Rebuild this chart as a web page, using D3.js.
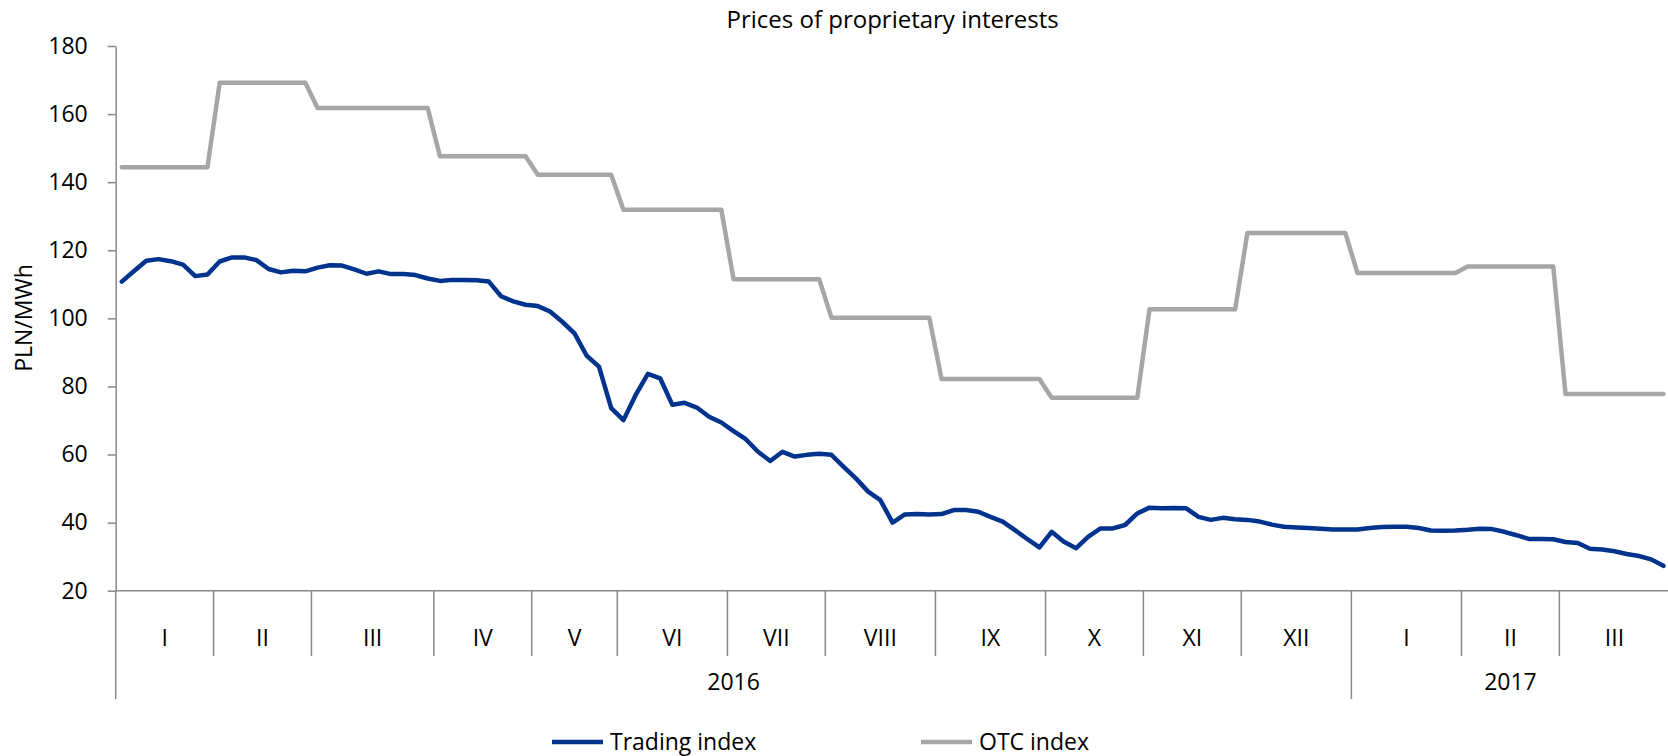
<!DOCTYPE html>
<meta charset="utf-8">
<style>
  body { margin: 0; background: #fff; }
  text { font-family: "Open Sans", sans-serif; fill: #000; }
</style>
<body>
<div id="chart"></div>
<script src="https://d3js.org/d3.v7.min.js"></script>
<script>
// category axis: months and number of quotes in each month
var monthLabels = ["I", "II", "III", "IV", "V", "VI", "VII", "VIII", "IX", "X", "XI", "XII", "I", "II", "III"];
var monthCounts = [8, 8, 10, 8, 7, 9, 8, 9, 9, 8, 8, 9, 9, 8, 9];
var yearLabels = ["2016", "2017"];
var yearMonths = [12, 3];
var yTicks = [20, 40, 60, 80, 100, 120, 140, 160, 180];

// PLN/MWh
var tradingIndex = [
  110.8, 113.9, 116.9, 117.4, 116.8, 115.8, 112.4, 112.9,
  116.7, 117.9, 117.9, 117.1, 114.5, 113.5, 114.0, 113.8,
  114.9, 115.6, 115.5, 114.4, 113.1, 113.8, 113.0, 113.0, 112.7, 111.7,
  111.0, 111.3, 111.3, 111.2, 110.8, 106.5, 105.0, 104.0,
  103.6, 102.0, 99.0, 95.6, 89.0, 85.8, 73.6,
  70.1, 77.5, 83.7, 82.4, 74.6, 75.2, 73.8, 71.1, 69.4,
  66.9, 64.5, 60.8, 58.1, 60.8, 59.4, 59.9, 60.2,
  59.9, 56.4, 53.0, 49.1, 46.6, 40.0, 42.4, 42.5, 42.4,
  42.5, 43.7, 43.7, 43.2, 41.7, 40.3, 37.8, 35.2, 32.7,
  37.3, 34.4, 32.5, 35.9, 38.3, 38.3, 39.3, 42.7,
  44.4, 44.2, 44.3, 44.2, 41.7, 40.8, 41.4, 41.0,
  40.8, 40.3, 39.4, 38.8, 38.6, 38.4, 38.2, 38.0, 38.0,
  38.0, 38.4, 38.7, 38.8, 38.8, 38.4, 37.7, 37.6, 37.7,
  37.9, 38.2, 38.1, 37.3, 36.3, 35.2, 35.2, 35.1,
  34.3, 34.0, 32.3, 32.1, 31.6, 30.8, 30.2, 29.2, 27.3
];
var otcIndex = [
  144.4, 144.4, 144.4, 144.4, 144.4, 144.4, 144.4, 144.4,
  169.2, 169.2, 169.2, 169.2, 169.2, 169.2, 169.2, 169.2,
  161.8, 161.8, 161.8, 161.8, 161.8, 161.8, 161.8, 161.8, 161.8, 161.8,
  147.6, 147.6, 147.6, 147.6, 147.6, 147.6, 147.6, 147.6,
  142.2, 142.2, 142.2, 142.2, 142.2, 142.2, 142.2,
  131.9, 131.9, 131.9, 131.9, 131.9, 131.9, 131.9, 131.9, 131.9,
  111.5, 111.5, 111.5, 111.5, 111.5, 111.5, 111.5, 111.5,
  100.2, 100.2, 100.2, 100.2, 100.2, 100.2, 100.2, 100.2, 100.2,
  82.2, 82.2, 82.2, 82.2, 82.2, 82.2, 82.2, 82.2, 82.2,
  76.7, 76.7, 76.7, 76.7, 76.7, 76.7, 76.7, 76.7,
  102.7, 102.7, 102.7, 102.7, 102.7, 102.7, 102.7, 102.7,
  125.1, 125.1, 125.1, 125.1, 125.1, 125.1, 125.1, 125.1, 125.1,
  113.3, 113.3, 113.3, 113.3, 113.3, 113.3, 113.3, 113.3, 113.3,
  115.2, 115.2, 115.2, 115.2, 115.2, 115.2, 115.2, 115.2,
  77.8, 77.8, 77.8, 77.8, 77.8, 77.8, 77.8, 77.8, 77.8
];

var W = 1668, H = 756;
var plotLeft = 115.7, plotRight = 1669.5, plotTop = 46, plotBottom = 590.7;
var axisColor = "#898989";

var svg = d3.select("#chart").append("svg")
  .attr("width", W)
  .attr("height", H);

var x = d3.scaleBand()
  .domain(d3.range(tradingIndex.length))
  .range([plotLeft, plotRight]);

var y = d3.scaleLinear()
  .domain([20, 180])
  .range([plotBottom, plotTop]);

// y axis
var yAxis = svg.append("g")
  .attr("transform", "translate(" + plotLeft + ",0)")
  .call(d3.axisLeft(y).tickValues(yTicks).tickSize(8).tickSizeOuter(0).tickPadding(20));
yAxis.selectAll("path, line").attr("stroke", axisColor).attr("stroke-width", 1.5);
yAxis.selectAll("text").style("font-size", "23px").style("font-family", "'Open Sans', sans-serif").attr("fill", "#000");

// category axis frame
svg.append("line")
  .attr("x1", plotLeft).attr("x2", W)
  .attr("y1", plotBottom).attr("y2", plotBottom)
  .attr("stroke", axisColor).attr("stroke-width", 1.5);
svg.append("line")
  .attr("x1", plotLeft).attr("x2", plotLeft)
  .attr("y1", plotBottom).attr("y2", 699)
  .attr("stroke", axisColor).attr("stroke-width", 1.5);

// month groups
var bounds = [0];
monthCounts.forEach(function (c, i) { bounds.push(bounds[i] + c); });
var yearBounds = [0];
yearMonths.forEach(function (c, i) { yearBounds.push(yearBounds[i] + c); });

function edge(k) { return k < tradingIndex.length ? x(k) : plotRight; }

svg.append("g").selectAll("line")
  .data(bounds.slice(1, -1))
  .enter().append("line")
  .attr("x1", function (k) { return x(k); })
  .attr("x2", function (k) { return x(k); })
  .attr("y1", plotBottom)
  .attr("y2", function (k, i) { return yearBounds.indexOf(i + 1) > 0 ? 699 : 656; })
  .attr("stroke", axisColor).attr("stroke-width", 1.5);

svg.append("g").selectAll("text")
  .data(monthLabels)
  .enter().append("text")
  .attr("x", function (d, i) { return (edge(bounds[i]) + edge(bounds[i + 1])) / 2; })
  .attr("y", 638)
  .attr("dy", "0.35em")
  .attr("text-anchor", "middle")
  .style("font-size", "23px")
  .text(function (d) { return d; });

svg.append("g").selectAll("text")
  .data(yearLabels)
  .enter().append("text")
  .attr("x", function (d, i) {
    return (edge(bounds[yearBounds[i]]) + edge(bounds[yearBounds[i + 1]])) / 2;
  })
  .attr("y", 682)
  .attr("dy", "0.35em")
  .attr("text-anchor", "middle")
  .style("font-size", "23px")
  .text(function (d) { return d; });

// lines
var line = d3.line()
  .x(function (d, i) { return x(i) + x.bandwidth() / 2; })
  .y(function (d) { return y(d); });

svg.append("path")
  .datum(otcIndex)
  .attr("fill", "none")
  .attr("stroke", "#a6a6a6")
  .attr("stroke-width", 4.5)
  .attr("stroke-linejoin", "round")
  .attr("stroke-linecap", "round")
  .attr("d", line);

svg.append("path")
  .datum(tradingIndex)
  .attr("fill", "none")
  .attr("stroke", "#00338d")
  .attr("stroke-width", 4.5)
  .attr("stroke-linejoin", "round")
  .attr("stroke-linecap", "round")
  .attr("d", line);

// title
svg.append("text")
  .attr("x", (plotLeft + plotRight) / 2)
  .attr("y", 20)
  .attr("dy", "0.35em")
  .attr("text-anchor", "middle")
  .style("font-size", "24px")
  .text("Prices of proprietary interests");

// y label
svg.append("text")
  .attr("transform", "rotate(-90)")
  .attr("x", -318)
  .attr("y", 24)
  .attr("dy", "0.35em")
  .attr("text-anchor", "middle")
  .style("font-size", "23px")
  .text("PLN/MWh");

// legend
var legend = [
  { name: "Trading index", color: "#00338d", x: 552 },
  { name: "OTC index", color: "#a6a6a6", x: 921 }
];
var lg = svg.append("g").selectAll("g")
  .data(legend)
  .enter().append("g")
  .attr("transform", function (d) { return "translate(" + d.x + ",742)"; });
lg.append("line")
  .attr("x1", 0).attr("x2", 51)
  .attr("stroke", function (d) { return d.color; })
  .attr("stroke-width", 4.5);
lg.append("text")
  .attr("x", 58)
  .attr("dy", "0.35em")
  .style("font-size", "23px")
  .text(function (d) { return d.name; });
</script>
</body>
